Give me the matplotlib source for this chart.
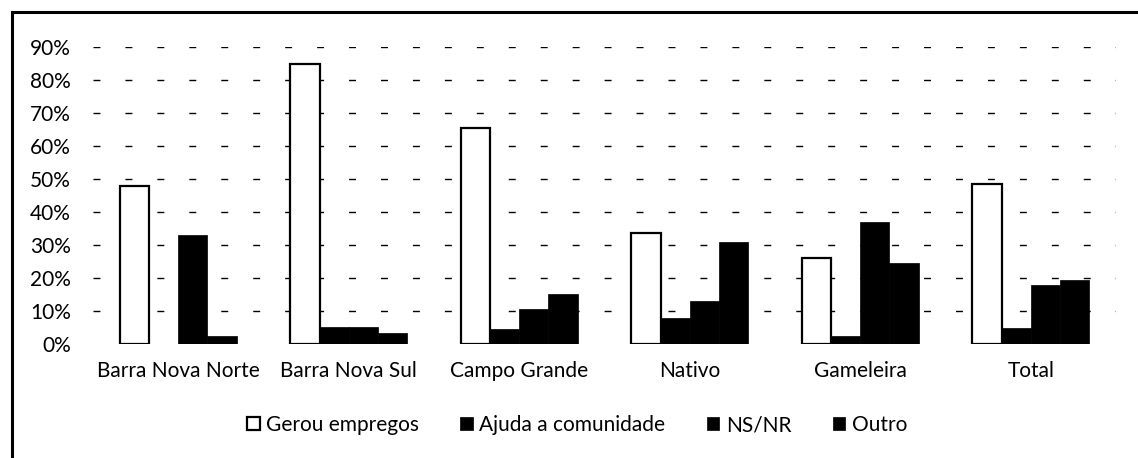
import matplotlib
matplotlib.use("Agg")
import matplotlib.pyplot as plt
import numpy as np
from matplotlib.lines import Line2D

plt.rcParams['font.family'] = ['Lato', 'DejaVu Sans']

categories = ["Barra Nova Norte", "Barra Nova Sul", "Campo Grande", "Nativo", "Gameleira", "Total"]
series_names = ["Gerou empregos", "Ajuda a comunidade", "NS/NR", "Outro"]
gerou = [48, 85, 65.5, 33.5, 26, 48.5]
ajuda = [0, 5.2, 4.5, 8, 2.5, 4.8]
nsnr = [33, 5.2, 10.5, 13, 37, 17.8]
outro = [2.5, 3.3, 15.3, 30.8, 24.6, 19.3]
values = [gerou, ajuda, nsnr, outro]
yticks = [0, 10, 20, 30, 40, 50, 60, 70, 80, 90]

fig = plt.figure(figsize=(11.38, 4.58), dpi=100)
ax = fig.add_axes([93/1138, 1-344/458, (1116-93)/1138, (344-47)/458])

x = np.arange(len(categories))
w = 0.171
for i, vals in enumerate(values):
    off = (i - 1.5) * w
    if i == 0:
        ax.bar(x + off, vals, w, facecolor='white', edgecolor='black', linewidth=1.6,
               label=series_names[i], zorder=3)
    else:
        ax.bar(x + off, vals, w, facecolor='black', edgecolor='black', linewidth=0.5,
               label=series_names[i], zorder=3)

ax.set_ylim(0, 90)
ax.set_xlim(-0.5, len(categories) - 0.5)
ax.set_yticks(yticks)
ax.set_yticklabels([f"{t}%" for t in yticks], fontsize=15)
ax.set_xticks(x)
ax.set_xticklabels(categories, fontsize=15)
ax.tick_params(axis='both', length=0)
ax.tick_params(axis='y', pad=16)
ax.tick_params(axis='x', pad=12)
for s in ax.spines.values():
    s.set_visible(False)
for t in yticks[1:]:
    ax.axhline(t, color='black', linewidth=1.0, linestyle=(0, (5, 18)), zorder=1)

leg = fig.legend(loc='center', bbox_to_anchor=(577/1138, 1-425/458), ncol=4, frameon=False,
                 fontsize=15, handlelength=0.6, handleheight=0.6, handletextpad=0.3,
                 columnspacing=2.0)

fig.add_artist(Line2D([12/1138, 12/1138], [0, 1-12/458], transform=fig.transFigure,
                      color='black', linewidth=2.2))
fig.add_artist(Line2D([12/1138, 1], [1-12/458, 1-12/458], transform=fig.transFigure,
                      color='black', linewidth=2.2))

fig.savefig("out.png", dpi=100, facecolor='white')
